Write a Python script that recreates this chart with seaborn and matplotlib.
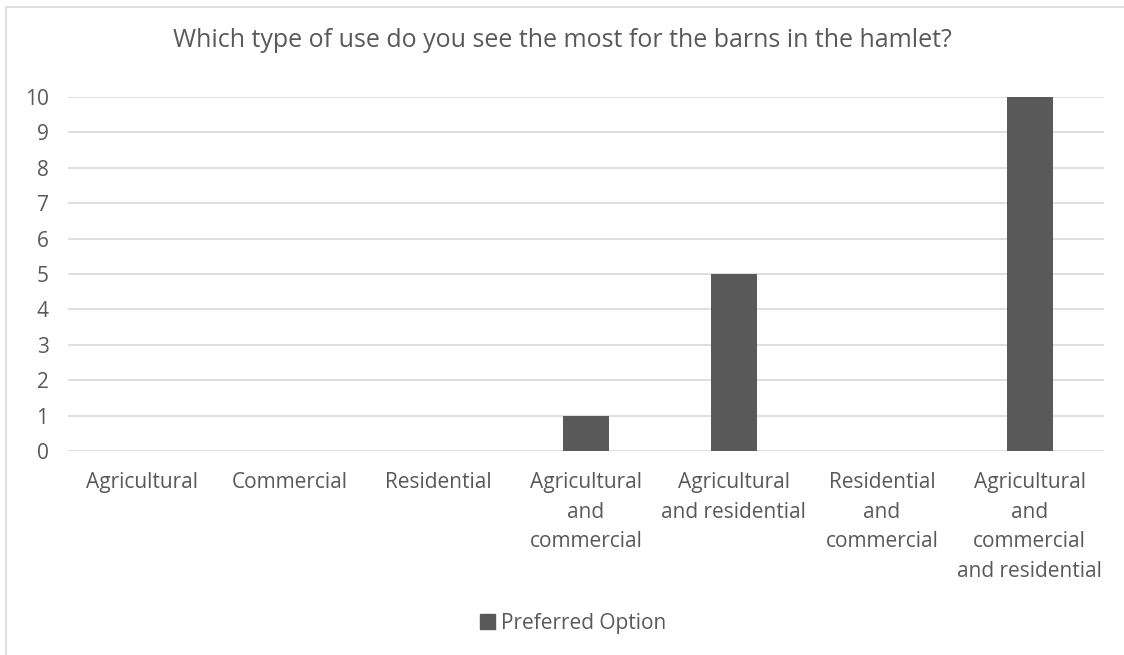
import matplotlib
matplotlib.use("Agg")
import matplotlib.pyplot as plt
import seaborn as sns
import pandas as pd
from matplotlib.patches import Rectangle, Patch

categories = ["Agricultural", "Commercial", "Residential",
              "Agricultural\nand\ncommercial", "Agricultural\nand residential",
              "Residential\nand\ncommercial", "Agricultural\nand\ncommercial\nand residential"]
values = [0, 0, 0, 1, 5, 0, 10]
series_name = "Preferred Option"
title = "Which type of use do you see the most for the barns in the hamlet?"

sns.set_theme(style="white")
plt.rcParams['font.family'] = ['Open Sans', 'DejaVu Sans']
txt = "#595959"

df = pd.DataFrame({"cat": categories, "val": values})
fig = plt.figure(figsize=(11.24, 6.55), dpi=100)
ax = fig.add_axes([0.0605, 0.3115, 0.9215, 0.5405])
sns.barplot(data=df, x="cat", y="val", color="#595959", width=0.31, ax=ax,
            saturation=1, edgecolor="none")
ax.set_ylim(0, 10)
ax.set_yticks(range(0, 11))
ax.set_xlim(-0.5, 6.5)
ax.yaxis.grid(True, color="#d9d9d9", linewidth=1.2)
ax.set_axisbelow(True)
for s in ax.spines.values():
    s.set_visible(False)
ax.set_xlabel("")
ax.set_ylabel("")
ax.tick_params(axis="both", length=0, labelsize=15, colors=txt)
ax.tick_params(axis="y", pad=14)
ax.tick_params(axis="x", pad=15.5)
for lab in ax.get_xticklabels():
    lab.set_multialignment("center")
    lab.set_linespacing(1.53)
for lab in ax.get_yticklabels():
    lab.set_horizontalalignment("right")

fig.text(0.5, 0.938, title, ha="center", va="center", fontsize=18, color=txt)
fig.legend(handles=[Patch(color="#595959", label=series_name)], loc="center",
           bbox_to_anchor=(0.51, 0.048), frameon=False, fontsize=15,
           labelcolor=txt, handlelength=0.7, handleheight=0.7, handletextpad=0.3)
fig.add_artist(Rectangle((0.0055, -0.1), 1.2, 1.089, transform=fig.transFigure,
                         fill=False, edgecolor="#d9d9d9", linewidth=1.2))
fig.savefig("out.png", dpi=100)
